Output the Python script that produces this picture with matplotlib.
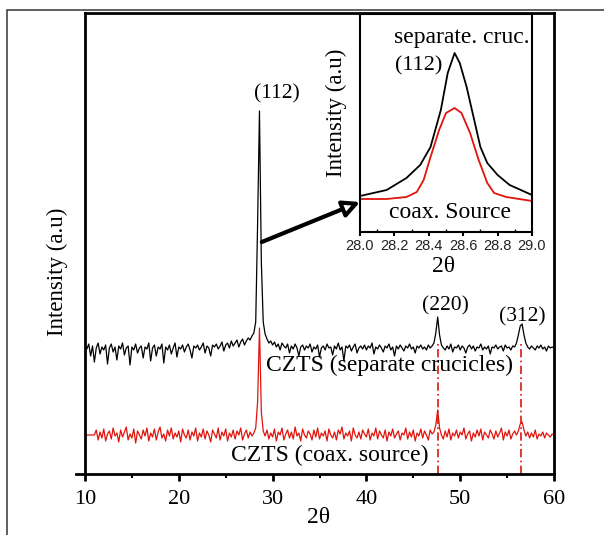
import numpy as np
import matplotlib
matplotlib.use("Agg")
import matplotlib.pyplot as plt
from matplotlib.patches import Rectangle
from matplotlib.ticker import MultipleLocator

plt.rcParams['font.family'] = ['Liberation Serif', 'DejaVu Serif']

# main pattern: 2theta from 10 to 60, step 0.2
two_theta = np.linspace(10, 60, 251)

sep_cruc = [
    127, 125, 130, 118, 128, 112, 126, 131, 120, 127,
    124, 129, 110, 126, 130, 122, 127, 114, 128, 125,
    131, 119, 126, 128, 109, 127, 124, 130, 121, 126,
    128, 116, 127, 125, 131, 113, 126, 129, 118, 127,
    125, 130, 111, 127, 124, 129, 120, 126, 131, 117,
    127, 125, 129, 122, 127, 130, 124, 116, 128, 126,
    129, 124, 127, 131, 121, 128, 126, 118, 129, 127,
    130, 125, 128, 132, 123, 129, 131, 126, 133, 128,
    131, 134, 127, 132, 135, 129, 133, 136, 134, 138,
    141, 152, 250, 363, 212, 152, 140, 135, 131, 133,
    129, 132, 127, 130, 124, 131, 128, 126, 130, 121,
    128, 125, 130, 126, 118, 127, 129, 124, 128, 126,
    130, 122, 127, 125, 129, 117, 126, 128, 124, 130,
    126, 127, 119, 128, 125, 131, 124, 127, 113, 128,
    126, 129, 123, 127, 130, 121, 126, 128, 125, 129,
    124, 128, 126, 131, 120, 127, 125, 129, 126, 122,
    128, 126, 130, 124, 127, 118, 128, 125, 129, 126,
    123, 128, 126, 130, 125, 127, 121, 128, 126, 129,
    125, 127, 124, 129, 126, 128, 131, 141, 157, 139,
    129, 126, 124, 128, 125, 130, 122, 127, 126, 129,
    124, 128, 126, 121, 127, 129, 125, 128, 123, 127,
    126, 130, 124, 127, 125, 128, 120, 127, 126, 129,
    125, 127, 128, 123, 129, 126, 127, 124, 128, 127,
    131, 139, 148, 150, 139, 131, 127, 125, 128, 126,
    124, 128, 126, 129, 125, 127, 123, 128, 126, 127, 126,
]

coax = [
    39, 39, 39, 39, 39, 39, 44, 34, 42, 36,
    45, 33, 40, 43, 35, 46, 38, 41, 32, 44,
    37, 42, 47, 34, 40, 36, 45, 31, 43, 39,
    35, 44, 38, 46, 33, 41, 37, 45, 34, 42,
    47, 36, 40, 33, 44, 38, 46, 35, 41, 37,
    43, 32, 45, 39, 36, 44, 34, 42, 38, 46,
    33, 41, 37, 45, 35, 43, 39, 32, 44, 40,
    36, 46, 34, 42, 38, 45, 33, 41, 37, 44,
    35, 43, 39, 46, 34, 40, 44, 36, 42, 38,
    41, 46, 72, 146, 62, 43, 38, 44, 35, 41,
    37, 45, 33, 42, 39, 46, 34, 40, 44, 36,
    42, 35, 47, 38, 41, 33, 45, 39, 36, 43,
    40, 34, 44, 37, 46, 35, 41, 38, 43, 33,
    45, 39, 36, 42, 34, 44, 40, 47, 35, 41,
    38, 43, 33, 46, 39, 36, 42, 35, 44, 40,
    37, 45, 34, 41, 38, 46, 35, 43, 39, 36,
    44, 33, 42, 38, 45, 36, 40, 43, 34, 41,
    39, 46, 35, 42, 37, 44, 33, 41, 38, 45,
    36, 43, 39, 34, 44, 40, 42, 49, 64, 46,
    39, 35, 43, 37, 45, 34, 41, 38, 44, 36,
    42, 39, 46, 35, 40, 43, 33, 41, 37, 44,
    38, 45, 34, 42, 39, 36, 44, 40, 35, 43,
    37, 41, 46, 34, 42, 38, 44, 35, 40, 43,
    39, 43, 50, 52, 44, 38, 42, 36, 41, 37,
    44, 35, 40, 38, 42, 36, 41, 39, 37, 40, 39,
]

peak_pos = [47.6, 56.5]
peak_line_top = 130

# inset zoom of (112)
zoom_x_sep = [28.0, 28.155, 28.27, 28.35, 28.41, 28.47, 28.51, 28.55,
              28.58, 28.62, 28.66, 28.70, 28.74, 28.80, 28.87, 29.0]
zoom_y_sep = [36, 42, 54, 67, 85, 122, 159, 179,
              169, 145, 115, 85, 69, 57, 47, 37]
zoom_x_coax = [28.0, 28.155, 28.27, 28.33, 28.37, 28.41, 28.46, 28.50,
               28.55, 28.59, 28.64, 28.69, 28.74, 28.78, 28.85, 29.0]
zoom_y_coax = [33, 33, 35, 40, 52, 75, 102, 119,
               124, 119, 99, 72, 49, 39, 35, 31]

fig = plt.figure(figsize=(6.04, 5.35), dpi=100)

# outer frame
fig.patches.append(Rectangle((7.5 / 604, -0.1), 1.1, 1.1 - 9.5 / 535,
                             transform=fig.transFigure, fill=False,
                             ec='#444444', lw=1.2))

ax = fig.add_axes([85 / 604, 1 - 474 / 535, 469 / 604, 461 / 535])
ax.plot(two_theta, sep_cruc, color='black', lw=0.9)
ax.plot(two_theta, coax, color='#e0140c', lw=0.9)
ax.vlines(peak_pos, 0, peak_line_top, colors='#e0140c', lw=1.2,
          linestyles=[(0, (5, 2, 1, 2))])

ax.set_xlim(10, 60)
ax.set_ylim(0, 461)
ax.set_yticks([])
ax.xaxis.set_major_locator(MultipleLocator(10))
ax.xaxis.set_minor_locator(MultipleLocator(5))
ax.tick_params(axis='x', which='major', direction='out', length=5, width=2,
               labelsize=16, pad=6.5)
ax.tick_params(axis='x', which='minor', direction='out', length=3, width=1.5)
for s in ax.spines.values():
    s.set_linewidth(2)
ax.spines['bottom'].set_bounds(9.05, 60)

ax.set_xlabel('2θ', fontsize=17)
ax.xaxis.set_label_coords(0.497, -0.072)
ax.set_ylabel('Intensity (a.u)', fontsize=16.5)
ax.yaxis.set_label_coords(-0.036, 0.438)

ax.text(30.47, 380, '(112)', fontsize=15.5, ha='center', va='center')
ax.text(48.38, 168, '(220)', fontsize=15.5, ha='center', va='center')
ax.text(56.6, 157, '(312)', fontsize=15.5, ha='center', va='center')
ax.text(42.5, 109, 'CZTS (separate crucicles)', fontsize=17,
        ha='center', va='center')
ax.text(36.1, 19, 'CZTS (coax. source)', fontsize=17,
        ha='center', va='center')

# inset
axin = fig.add_axes([360 / 604, 1 - 232 / 535, 172 / 604, 218 / 535])
axin.plot(zoom_x_sep, zoom_y_sep, color='black', lw=1.3)
axin.plot(zoom_x_coax, zoom_y_coax, color='#e0140c', lw=1.3)
axin.set_xlim(28.0, 29.0)
axin.set_ylim(0, 218)
axin.set_yticks([])
axin.xaxis.set_major_locator(MultipleLocator(0.2))
axin.xaxis.set_minor_locator(MultipleLocator(0.1))
axin.tick_params(axis='x', which='major', direction='out', length=3, width=1.5,
                 pad=2)
axin.tick_params(axis='x', which='minor', direction='in', length=2, width=1)
for lab in axin.get_xticklabels():
    lab.set_fontfamily(['Liberation Sans', 'DejaVu Sans'])
    lab.set_fontsize(10.5)
    lab.set_color('#222222')
for s in axin.spines.values():
    s.set_linewidth(1.5)
axin.set_xlabel('2θ', fontsize=17)
axin.xaxis.set_label_coords(0.483, -0.112)
axin.set_ylabel('Intensity (a.u)', fontsize=16.5)
axin.yaxis.set_label_coords(-0.075, 0.546)
axin.text(28.593, 194, 'separate. cruc.', fontsize=17, ha='center', va='center')
axin.text(28.34, 166, '(112)', fontsize=16, ha='center', va='center')
axin.text(28.523, 19, 'coax. Source', fontsize=17, ha='center', va='center')

# arrow from the (112) peak into the inset
ax.annotate('', xy=(28.0, 30), xycoords=axin.transData,
            xytext=(28.85, 232), textcoords=ax.transData,
            arrowprops=dict(arrowstyle='-|>,head_length=1.0,head_width=0.5',
                            lw=3, fc='white', ec='black',
                            shrinkA=0, shrinkB=0))

fig.savefig('out.png', dpi=100)
